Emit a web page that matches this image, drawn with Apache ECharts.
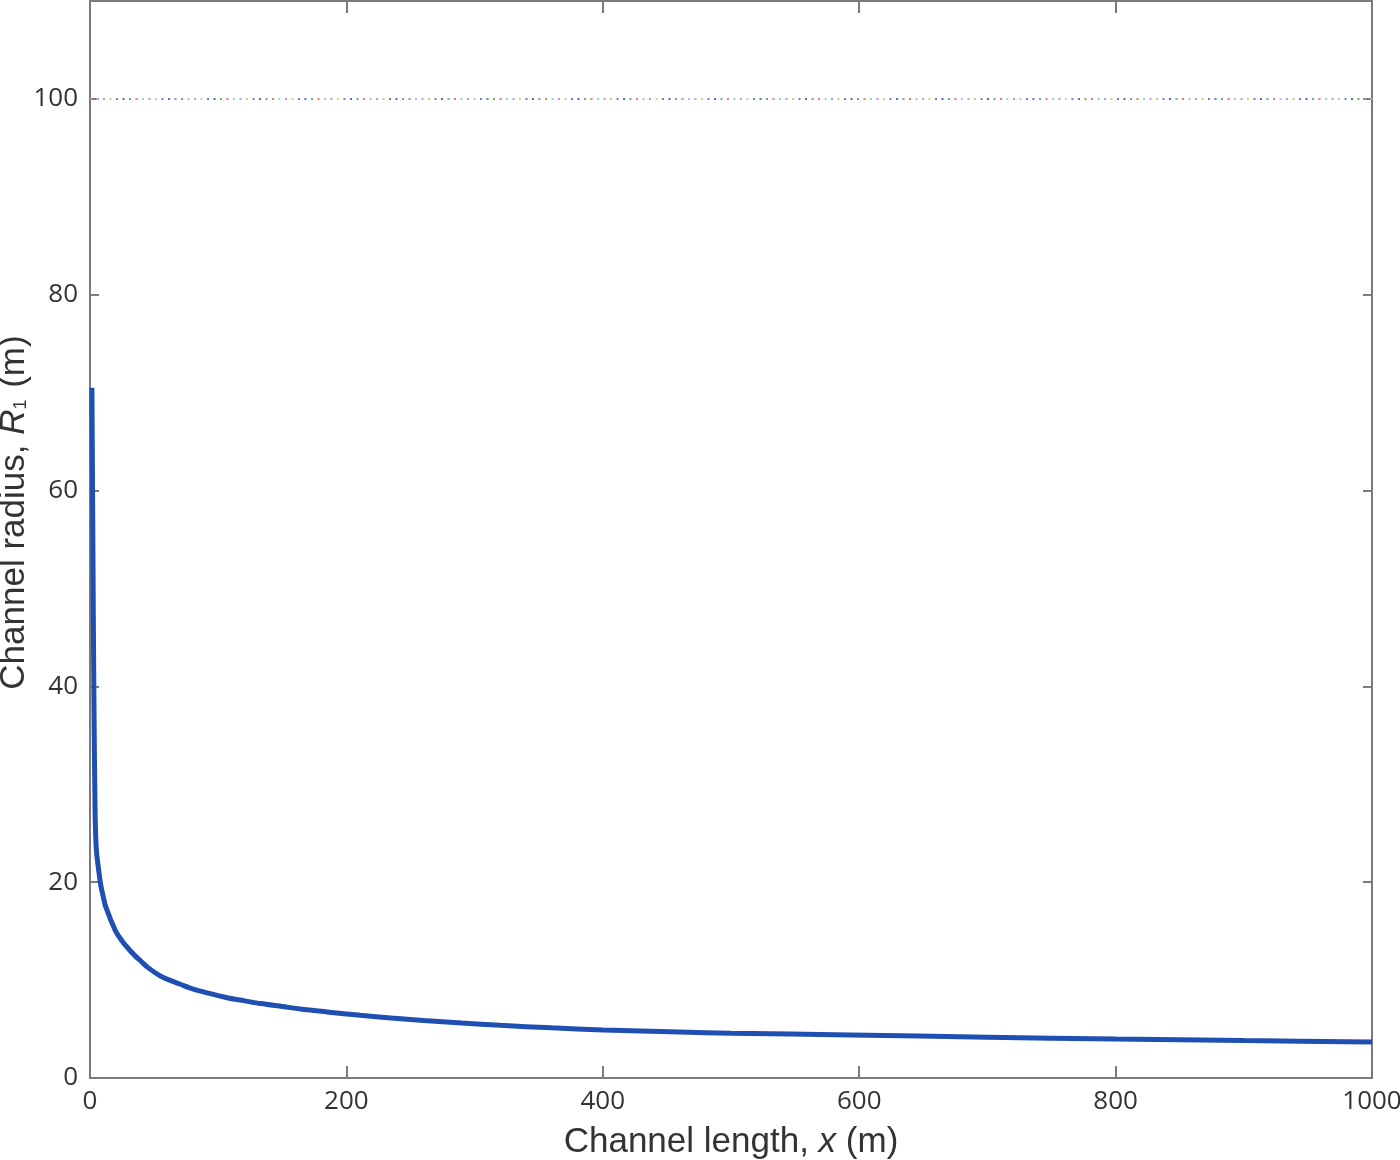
<!DOCTYPE html>
<html>
<head>
<meta charset="utf-8">
<script src="https://cdn.jsdelivr.net/npm/echarts@6/dist/echarts.min.js"></script>
<style>html,body{margin:0;padding:0;background:#fff}#c{width:1400px;height:1160px}</style>
</head>
<body>
<div id="c"></div>
<script>
// Channel length x (m)
var channelLength = [1.5, 2, 2.6, 3.3, 4, 4.5, 5, 6, 7, 8, 9, 10, 12, 14, 16, 18, 20, 25, 30, 35, 40, 45, 55, 62, 70, 80, 90, 107, 120, 133, 150, 164, 185, 211, 235, 260, 290, 320, 360, 400, 460, 500, 593, 700, 800, 900, 1000];
// Channel radius R1 (m)
var channelRadius = [70.5, 60, 47, 35, 27, 24.5, 23.2, 22, 21, 20, 19.3, 18.7, 17.6, 16.9, 16.2, 15.6, 15.0, 14.0, 13.2, 12.5, 11.9, 11.3, 10.4, 10.0, 9.6, 9.1, 8.75, 8.2, 7.9, 7.6, 7.3, 7.05, 6.75, 6.4, 6.12, 5.87, 5.61, 5.38, 5.12, 4.9, 4.69, 4.57, 4.4, 4.17, 3.98, 3.82, 3.68];
// Reference level (m)
var referenceX = [0, 1000];
var referenceLevel = [100, 100];
var dotColors = ['#e8806a', '#8fd6dc', '#b898dc', '#ccd27e', '#6a80cc', '#5570c0', '#70ae70'];

var chart = echarts.init(document.getElementById('c'));
var axisCol = '#7a7a7a';
var mainSeries = {
  type: 'line',
  data: channelLength.map(function (x, i) { return [x, channelRadius[i]]; }),
  showSymbol: false,
  smooth: 0.3,
  lineStyle: { color: '#1f4fb2', width: 5 },
  z: 5
};
var dotSeries = dotColors.map(function (c, k) {
  return {
    type: 'line',
    data: referenceX.map(function (x, i) { return [x, referenceLevel[i]]; }),
    showSymbol: false,
    silent: true,
    lineStyle: { color: c, width: 2, type: [2, 43.5], dashOffset: -k * 6.5 }
  };
});
var labelStyle = { color: '#333', fontSize: 26, fontFamily: 'Open Sans' };
function tickFmt(v) { return String(v); }
var nameFont = 'Liberation Sans';
chart.setOption({
  animation: false,
  backgroundColor: '#fff',
  grid: { left: 90, right: 28, top: 1, bottom: 82, containLabel: false, outerBoundsMode: 'none' },
  xAxis: [{
    type: 'value', min: 0, max: 1000, interval: 200,
    name: 'Channel length, {i|x} (m)', nameLocation: 'middle', nameGap: 47,
    nameTextStyle: { color: '#333', fontSize: 35, fontFamily: nameFont,
      rich: { i: { fontStyle: 'italic', fontSize: 35, fontFamily: nameFont, color: '#333' } } },
    axisLine: { onZero: false, lineStyle: { color: axisCol, width: 2 } },
    axisTick: { inside: true, length: 12, lineStyle: { color: axisCol, width: 2 } },
    axisLabel: Object.assign({ margin: 11, formatter: tickFmt }, labelStyle),
    splitLine: { show: false }
  }, {
    type: 'value', position: 'top', min: 0, max: 1000, interval: 200,
    axisLine: { show: true, onZero: false, lineStyle: { color: axisCol, width: 2 } },
    axisTick: { inside: true, length: 12, lineStyle: { color: axisCol, width: 2 } },
    axisLabel: { show: false }, splitLine: { show: false }
  }],
  yAxis: [{
    type: 'value', min: 0, max: 110, interval: 20,
    name: 'Channel radius, {i|R}{s|1} (m)', nameLocation: 'middle', nameGap: 58, nameMoveOverlap: false,
    nameTextStyle: { color: '#333', fontSize: 35, fontFamily: nameFont, padding: [0, 0, 0, 54],
      rich: { i: { fontStyle: 'italic', fontSize: 35, fontFamily: nameFont, color: '#333' },
              s: { fontSize: 18, fontFamily: nameFont, color: '#333', padding: [14, 2, 0, 0] } } },
    axisLine: { show: true, onZero: false, lineStyle: { color: axisCol, width: 2 } },
    axisTick: { inside: true, length: 9, lineStyle: { color: axisCol, width: 2 } },
    axisLabel: Object.assign({ margin: 12, formatter: function (v) { return v > 100 ? '' : String(v); } }, labelStyle),
    splitLine: { show: false }
  }, {
    type: 'value', position: 'right', min: 0, max: 110, interval: 20,
    axisLine: { show: true, onZero: false, lineStyle: { color: axisCol, width: 2 } },
    axisTick: { inside: true, length: 9, lineStyle: { color: axisCol, width: 2 } },
    axisLabel: { show: false }, splitLine: { show: false }
  }],
  series: dotSeries.concat([mainSeries])
});
</script>
</body>
</html>
